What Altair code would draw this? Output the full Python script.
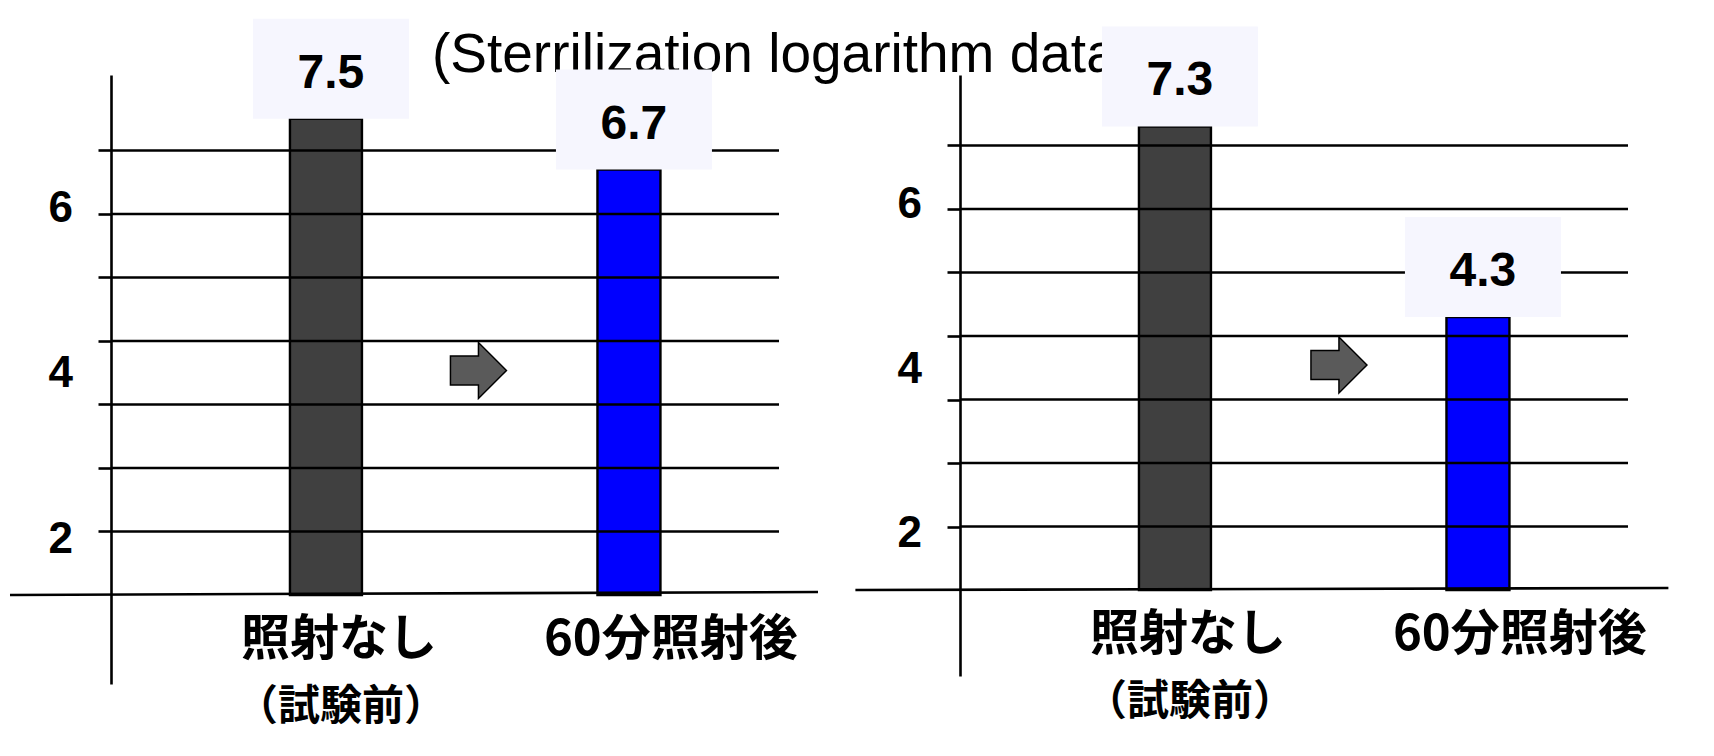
import altair as alt
import pandas as pd

# ---- data ----
categories = ["照射なし", "60分照射後"]
sub_labels = ["（試験前）", ""]
left_values = [7.5, 6.7]
right_values = [7.3, 4.3]
grid_values = [1, 2, 3, 4, 5, 6, 7]
tick_labels = [2, 4, 6]
title_text = "(Sterrilization logarithm data"

# ---- styling ----
W = 668
FONT_NUM = "Liberation Sans, Arial"
FONT_JP = "Noto Sans CJK JP"
ARROW = "M-1,-0.52L0,-0.52L0,-1L1,0L0,1L0,0.52L-1,0.52Z"
BOX_FILL = "#F6F6FE"
LINE_W = 2.6


def panel(values, height, ydom, ldom, rule_x, rule_x2, rule_off, arrow_dx, arrow_y, with_title):
    df = pd.DataFrame({"cat": categories, "value": values, "sub": sub_labels})
    xs = alt.X(
        "cat:N",
        sort=categories,
        axis=None,
        scale=alt.Scale(domain=categories, paddingInner=0.5, paddingOuter=0.3523, align=0.652),
    )
    yscale = alt.Scale(domain=ydom, nice=False, zero=False)
    yaxis = alt.Axis(
        values=grid_values, grid=False, labels=False, ticks=True, tickSize=13,
        tickWidth=LINE_W, tickColor="black", domainColor="black", domainWidth=LINE_W,
        title=None,
    )
    y_main = alt.Y("value:Q", scale=yscale, axis=yaxis)
    base = alt.Chart(df)

    bars = base.mark_bar(stroke="black", strokeWidth=2.4).encode(
        x=xs,
        y=y_main,
        color=alt.Color("cat:N", sort=categories,
                        scale=alt.Scale(domain=categories, range=["#404040", "#0000FF"]),
                        legend=None),
        size=alt.condition(alt.datum.cat == categories[0], alt.value(72), alt.value(63)),
    )

    grid = alt.Chart(pd.DataFrame({"g": grid_values})).mark_rule(
        color="black", strokeWidth=LINE_W
    ).encode(
        y=alt.Y("g:Q", scale=yscale, axis=yaxis),
        x=alt.value(0),
        x2=alt.value(W),
    )

    baseline = alt.Chart(pd.DataFrame({"g": [0]})).mark_rule(
        color="black", strokeWidth=LINE_W, y2Offset=rule_off
    ).encode(
        y=alt.Y("g:Q", scale=yscale, axis=yaxis),
        y2=alt.Y2("g"),
        x=alt.value(rule_x),
        x2=alt.value(rule_x2),
    )

    boxes = base.mark_bar(width=156, y2Offset=-100, xOffset=5, color=BOX_FILL).encode(
        x=xs, y=y_main, y2=alt.Y2("value")
    )

    vals = base.mark_text(
        font=FONT_NUM, fontSize=48, fontWeight="bold", dy=-45, dx=5,
        baseline="middle", color="black",
    ).encode(x=xs, y=y_main, text=alt.Text("value:Q", format=".1f"))

    arrow = alt.Chart(pd.DataFrame({"cat": [categories[0]]})).mark_point(
        shape=ARROW, size=3136, filled=True, fill="#5A5A5A", stroke="black",
        strokeWidth=1.5, opacity=1, xOffset=arrow_dx,
    ).encode(x=xs, y=alt.value(arrow_y))

    mains = base.mark_text(
        font=FONT_JP, fontSize=49, fontWeight="bold", align="left", dx=-85, dy=45,
        baseline="middle", color="black",
    ).encode(x=xs, y=alt.Y("zero:Q", scale=yscale, axis=yaxis), text="cat:N").transform_calculate(zero="0")

    subs = base.mark_text(
        font=FONT_JP, fontSize=42, fontWeight="bold", align="center", dx=15, dy=112,
        baseline="middle", color="black",
    ).encode(x=xs, y=alt.Y("zero:Q", scale=yscale, axis=yaxis), text="sub:N").transform_calculate(zero="0")

    layers = [bars, grid, baseline, boxes, vals, arrow, mains, subs]
    if with_title:
        title = alt.Chart(pd.DataFrame({"t": [title_text]})).mark_text(
            font="Liberation Sans, Arial", fontSize=55, align="left",
            baseline="alphabetic", color="black",
        ).encode(x=alt.value(321), y=alt.value(-3), text="t:N")
        layers = [title] + layers
    main = alt.layer(*layers)

    ticks = alt.Chart(pd.DataFrame({"t": tick_labels})).mark_text(
        font=FONT_NUM, fontSize=44, fontWeight="bold", align="right", baseline="middle",
        color="black",
    ).encode(
        x=alt.value(-38),
        y=alt.Y("t:Q", scale=alt.Scale(domain=ldom, nice=False, zero=False), axis=None),
        text="t:Q",
    )

    return alt.layer(main, ticks).resolve_scale(y="independent").properties(width=W, height=height)


left = panel(left_values, 609, [-1.402, 8.189], [0.260, 7.619], -101, 707, -3, 152.5, 295.5, True)
right = panel(right_values, 601, [-1.354, 8.110], [0.274, 7.581], -104.6, 708.4, -2, 164, 290, False)

chart = alt.hconcat(left, right, spacing=181, bounds="flush").properties(
    padding={"left": 0, "top": 10, "right": 0, "bottom": 20},
    background="white",
).configure_view(stroke=None)

chart.save("out.html", embed_options={"renderer": "svg", "actions": False})
